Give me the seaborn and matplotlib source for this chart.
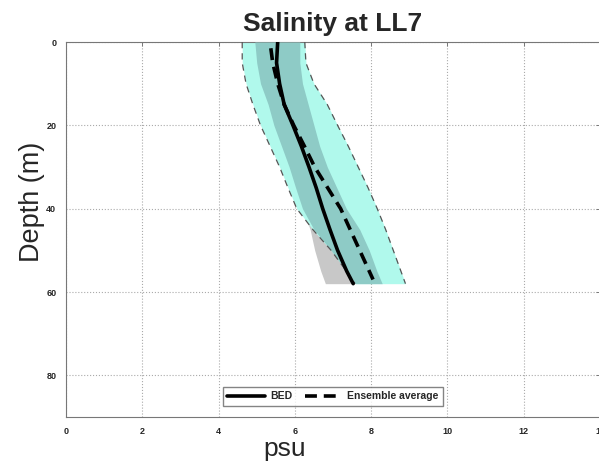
import matplotlib
matplotlib.use("Agg")
import matplotlib.pyplot as plt
import pandas as pd
import seaborn as sb

# Salinity profile at station LL7
depth = [0, 5, 10, 15, 20, 25, 30, 35, 40, 45, 50, 55, 58]
bed = [5.55, 5.52, 5.6, 5.72, 5.95, 6.17, 6.37, 6.56, 6.73, 6.92, 7.12, 7.36, 7.53]
ens_depth = [1.5, 5, 10, 15, 20, 25, 30, 35, 40, 45, 50, 55, 57]
ensemble = [5.37, 5.42, 5.55, 5.72, 5.97, 6.25, 6.52, 6.86, 7.2, 7.45, 7.7, 7.95, 8.05]
outer_lo = [4.62, 4.62, 4.72, 4.9, 5.1, 5.35, 5.6, 5.82, 6.05, 6.47, 6.95, 7.35, 7.58]
outer_hi = [6.26, 6.29, 6.5, 6.85, 7.12, 7.4, 7.66, 7.92, 8.16, 8.38, 8.58, 8.78, 8.9]
inner_lo = [4.95, 5.0, 5.1, 5.3, 5.45, 5.65, 5.85, 6.02, 6.2, 6.5, 6.95, 7.35, 7.58]
inner_hi = [6.13, 6.13, 6.2, 6.35, 6.5, 6.65, 6.85, 7.1, 7.35, 7.7, 7.95, 8.15, 8.29]
grey_lo = [5.0, 5.05, 5.15, 5.35, 5.5, 5.7, 5.9, 6.05, 6.2, 6.4, 6.52, 6.68, 6.8]

prof = pd.DataFrame({"depth": depth, "BED": bed})
ens = pd.DataFrame({"depth": ens_depth, "Ensemble average": ensemble})

sb.set_style("white")
plt.rcParams["font.family"] = ["Liberation Sans", "DejaVu Sans"]

fig = plt.figure(figsize=(5.99, 4.63), dpi=100)
ax = fig.add_axes([66 / 599, 1 - 417 / 463, 534 / 599, 375 / 463])

# spread bands
ax.fill_betweenx(depth, grey_lo, bed, color="#c8c8c8", lw=0, zorder=1)
ax.fill_betweenx(depth, outer_lo, outer_hi, color="#b0f9ec", lw=0, zorder=2)
ax.fill_betweenx(depth, inner_lo, inner_hi, color="#8ecbc6", lw=0, zorder=3)
ax.plot(outer_lo, depth, color="#555555", lw=0.9, ls=(0, (5, 4)), zorder=4)
ax.plot(outer_hi, depth, color="#555555", lw=0.9, ls=(0, (5, 4)), zorder=4)

sb.lineplot(data=prof, x="BED", y="depth", orient="y", sort=False, color="black",
            lw=2.6, label="BED", ax=ax, zorder=5)
sb.lineplot(data=ens, x="Ensemble average", y="depth", orient="y", sort=False, color="black",
            lw=2.6, ls=(0, (3.3, 1.9)), label="Ensemble average", ax=ax, zorder=5)

ax.set_xlim(0, 14)
ax.set_ylim(90, 0)
ax.set_xticks(range(0, 15, 2))
ax.set_yticks(range(0, 81, 20))
ax.grid(True, ls=":", color="#aaaaaa", lw=0.8)
ax.tick_params(labelsize=6.5, length=3, width=0.7, color="#777777", direction="in",
               top=True, right=True, pad=7)
for t in ax.get_xticklabels() + ax.get_yticklabels():
    t.set_fontweight("bold")
for s in ax.spines.values():
    s.set_color("#777777")
    s.set_linewidth(0.8)

ax.set_title("Salinity at LL7", fontsize=19, fontweight="bold", pad=8)
ax.set_xlabel("psu", fontsize=19)
ax.set_ylabel("Depth (m)", fontsize=19.5)
ax.xaxis.set_label_coords(0.41, -0.054)
ax.yaxis.set_label_coords(-0.04, 0.575)

leg = ax.legend(loc="lower center", bbox_to_anchor=(0.5, 0.015), ncol=2, fontsize=7.5,
                frameon=True, fancybox=False, edgecolor="#666666", handlelength=3.6,
                columnspacing=1.2, handletextpad=0.5, borderpad=0.45)
for t in leg.get_texts():
    t.set_fontweight("bold")

fig.savefig("out.png", dpi=100)
